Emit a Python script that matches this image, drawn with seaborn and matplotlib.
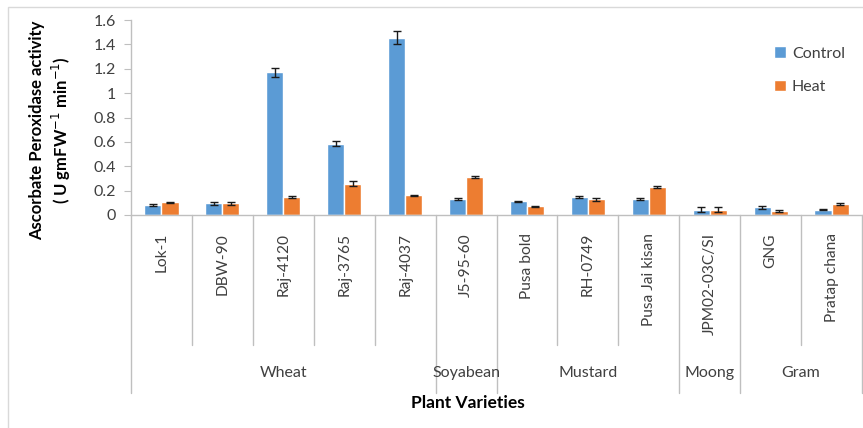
import matplotlib
matplotlib.use("Agg")
import matplotlib.pyplot as plt
import pandas as pd
import seaborn as sns
from matplotlib.patches import Rectangle
from matplotlib.ticker import FuncFormatter

varieties = ["Lok-1", "DBW-90", "Raj-4120", "Raj-3765", "Raj-4037", "J5-95-60",
             "Pusa bold", "RH-0749", "Pusa Jai kisan", "JPM02-03C/SI", "GNG", "Pratap chana"]
crops = ["Wheat", "Soyabean", "Mustard", "Moong", "Gram"]
crop_sizes = [5, 1, 3, 1, 2]
control = [0.082, 0.098, 1.17, 0.585, 1.455, 0.131, 0.112, 0.148, 0.131, 0.044, 0.063, 0.043]
heat = [0.105, 0.098, 0.148, 0.258, 0.162, 0.312, 0.071, 0.128, 0.232, 0.044, 0.031, 0.092]
control_err = [0.006, 0.012, 0.035, 0.02, 0.055, 0.006, 0.002, 0.01, 0.006, 0.02, 0.01, 0.004]
heat_err = [0.005, 0.012, 0.01, 0.02, 0.004, 0.006, 0.002, 0.012, 0.01, 0.02, 0.01, 0.01]

df = pd.DataFrame({
    "variety": varieties * 2,
    "treatment": ["Control"] * len(varieties) + ["Heat"] * len(varieties),
    "value": control + heat,
})
errs = {"Control": control_err, "Heat": heat_err}

sns.set_style("white")
plt.rcParams["font.family"] = ["Lato", "DejaVu Sans"]
text_col = "#404040"
line_col = "#BFBFBF"

fig = plt.figure(figsize=(8.63, 4.28), dpi=100)
ax = fig.add_axes([131 / 863, 1 - 215 / 428, 731 / 863, 195 / 428])

sns.barplot(data=df, x="variety", y="value", hue="treatment", order=varieties,
            palette={"Control": "#5B9BD5", "Heat": "#ED7D31"}, width=0.56,
            errorbar=None, saturation=1, ax=ax)

for cont, name in zip(ax.containers, ["Control", "Heat"]):
    xs = [p.get_x() + p.get_width() / 2 for p in cont.patches]
    ys = [p.get_height() for p in cont.patches]
    ax.errorbar(xs, ys, yerr=errs[name], fmt="none", ecolor="#1a1a1a",
                elinewidth=1, capsize=3, capthick=1)

ax.set_xlim(-0.5, len(varieties) - 0.5)
ax.set_ylim(0, 1.6)
ax.set_yticks([0, 0.2, 0.4, 0.6, 0.8, 1.0, 1.2, 1.4, 1.6])
ax.yaxis.set_major_formatter(FuncFormatter(lambda v, _: f"{v:g}"))
ax.tick_params(axis="y", left=True, length=5, width=0.8, color=line_col,
               labelsize=11.5, labelcolor=text_col, pad=6)
ax.set_xticks(range(len(varieties)))
ax.set_xticklabels(varieties, rotation=90, va="top", ha="center",
                   fontsize=11.2, color=text_col)
ax.tick_params(axis="x", length=0, pad=13)
ax.set_xlabel("")
ax.set_ylabel("")
for s in ["top", "right"]:
    ax.spines[s].set_visible(False)
for s in ["left", "bottom"]:
    ax.spines[s].set_color(line_col)
    ax.spines[s].set_linewidth(1)

# multi-level category axis
trans = ax.get_xaxis_transform()
bounds = [-0.5]
for n in crop_sizes:
    bounds.append(bounds[-1] + n)
for i in range(len(varieties) + 1):
    x = i - 0.5
    low = -0.913 if x in bounds else -0.667
    ax.plot([x, x], [0, low], color=line_col, lw=1, transform=trans, clip_on=False)
for name, a, b in zip(crops, bounds[:-1], bounds[1:]):
    ax.text((a + b) / 2, -0.81, name, transform=trans, ha="center", va="center",
            fontsize=11.5, color=text_col)

fig.text(468 / 863, 1 - 403 / 428, "Plant Varieties", ha="center", va="center",
         fontsize=12.5, fontweight="bold", color="black")
fig.text(51 / 863, 1 - 130 / 428,
         "Ascorbate Peroxidase activity\n( U gmFW$^{-1}$ min$^{-1}$)",
         rotation=90, ha="center", va="center", multialignment="center",
         fontsize=12, fontweight="bold", color="black", linespacing=1.25)

handles, labels = ax.get_legend_handles_labels()
ax.legend(handles, labels, loc="upper left", bbox_to_anchor=(760 / 863, 1 - 32 / 428),
          bbox_transform=fig.transFigure, frameon=False, fontsize=11.5,
          handlelength=0.7, handleheight=0.7, handletextpad=0.4, labelspacing=1.2,
          labelcolor=text_col)

fig.patches.append(Rectangle((8 / 863, -0.1), 1.2, 1.1 - 7 / 428, transform=fig.transFigure,
                             fill=False, edgecolor="#D9D9D9", lw=1))

fig.savefig("out.png", dpi=100)
